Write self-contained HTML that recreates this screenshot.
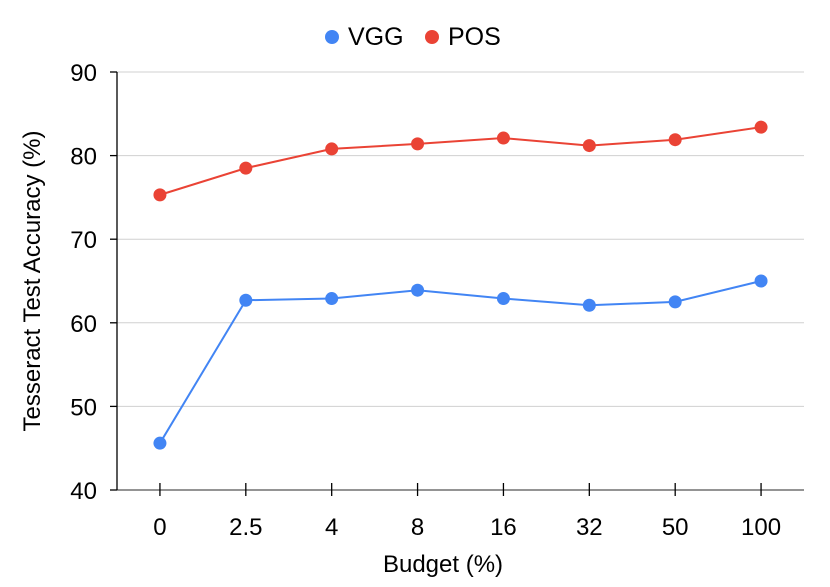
<!DOCTYPE html>
<html><head><meta charset="utf-8"><style>
html,body{margin:0;padding:0;background:#fff;}
svg text{font-family:"Liberation Sans",Arial,sans-serif;}
</style></head><body>
<svg id="chart" width="830" height="582" viewBox="0 0 830 582" xmlns="http://www.w3.org/2000/svg"></svg>
<script>
const categories = ["0","2.5","4","8","16","32","50","100"];
const vggValues = [45.6, 62.7, 62.9, 63.9, 62.9, 62.1, 62.5, 65.0];
const posValues = [75.3, 78.5, 80.8, 81.4, 82.1, 81.2, 81.9, 83.4];
const yTicks = [40, 50, 60, 70, 80, 90];

const NS = "http://www.w3.org/2000/svg";
const svg = document.getElementById("chart");
const L = 117, R = 804, T = 72, B = 490, yMin = 40, yMax = 90;
const band = (R - L) / categories.length;
function xScale(i){ return L + band * (i + 0.5); }
function yScale(v){ return B - (v - yMin) / (yMax - yMin) * (B - T); }
function mk(tag, attrs, parent){
  const e = document.createElementNS(NS, tag);
  for (const k in attrs) e.setAttribute(k, attrs[k]);
  (parent || svg).appendChild(e);
  return e;
}

yTicks.forEach(t => {
  const y = yScale(t);
  if (t !== yMin) {
    const g = mk("line", {x1:L, x2:R, y1:y, y2:y, stroke:"#d0d0d0", "stroke-width":1});
    
    
  }
  const tk = mk("line", {x1:L-7, x2:L, y1:y, y2:y, stroke:"#000", "stroke-width":1.3});
  
  
  const tx = mk("text", {x:97, y:y+9, "text-anchor":"end", "font-size":24, fill:"#000"});
  tx.textContent = t;
  
  
});

const xa = mk("line", {x1:L, x2:R, y1:B, y2:B, stroke:"#555", "stroke-width":1.3});


const ya = mk("line", {x1:L, x2:L, y1:T, y2:B, stroke:"#000", "stroke-width":1.3});



categories.forEach((c, i) => {
  const x = xScale(i);
  const tk = mk("line", {x1:x, x2:x, y1:B-7, y2:B+6, stroke:"#000", "stroke-width":1.3});
  
  
  const tx = mk("text", {x:x, y:535, "text-anchor":"middle", "font-size":24, fill:"#000"});
  tx.textContent = c;
  
  
});

function series(vals, color, name){
  const pts = vals.map((v, i) => xScale(i) + "," + yScale(v)).join(" ");
  const pl = mk("polyline", {points:pts, fill:"none", stroke:color, "stroke-width":2});
  
  
  vals.forEach((v, i) => {
    const c = mk("circle", {cx:xScale(i), cy:yScale(v), r:6.5, fill:color});
    
    
  });
}
series(vggValues, "#4285f4", "vgg");
series(posValues, "#ea4335", "pos");

const xt = mk("text", {x:443, y:572, "text-anchor":"middle", "font-size":24, fill:"#000"});
xt.textContent = "Budget (%)";


const yt = mk("text", {x:0, y:0, "text-anchor":"middle", "font-size":24, fill:"#000", transform:"translate(40,281) rotate(-90)"});
yt.textContent = "Tesseract Test Accuracy (%)";



const lg = mk("g", {});


[["VGG","#4285f4",332],["POS","#ea4335",432]].forEach(([n,c,x]) => {
  const ci = mk("circle", {cx:x, cy:37, r:7, fill:c}, lg);
  
  
  const t = mk("text", {x:x+16, y:45, "font-size":25, fill:"#000"}, lg);
  t.textContent = n;
  
  
});
</script>
</body></html>
